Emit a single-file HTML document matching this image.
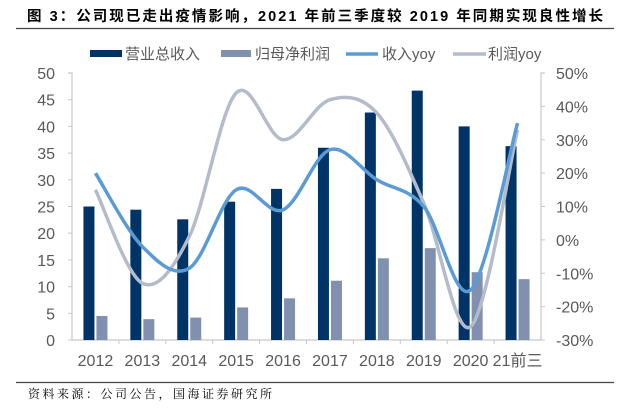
<!DOCTYPE html>
<html><head><meta charset="utf-8"><style>
body{margin:0;background:#fff;width:623px;height:409px;overflow:hidden}
text{font-family:"Liberation Sans","Noto Sans CJK SC",sans-serif}
</style></head><body>
<svg id="c" width="623" height="409" xmlns="http://www.w3.org/2000/svg">
<text x="27" y="21" font-size="14.5" font-weight="bold" fill="#000" textLength="576" lengthAdjust="spacing">图 3：公司现已走出疫情影响，2021 年前三季度较 2019 年同期实现良性增长</text>
<line x1="16" y1="28.5" x2="614" y2="28.5" stroke="#444" stroke-width="1.2"/>
<line x1="16" y1="382.5" x2="614" y2="382.5" stroke="#444" stroke-width="1.2"/>
<text x="28" y="398" font-size="12" fill="#000" textLength="244" lengthAdjust="spacing" style="font-family:'Liberation Serif','Noto Serif CJK SC',serif">资料来源：公司公告，国海证券研究所</text>
<g>
<rect x="90" y="50" width="32" height="7" fill="#003366"/>
<text x="125" y="59" font-size="15" fill="#595959">营业总收入</text>
<rect x="221" y="50" width="30" height="7" fill="#8090ae"/>
<text x="255" y="59" font-size="15" fill="#595959">归母净利润</text>
<line x1="346" y1="54" x2="378" y2="54" stroke="#5b9bd5" stroke-width="3.5"/>
<text x="382" y="59" font-size="15" fill="#595959">收入yoy</text>
<line x1="453" y1="54" x2="486" y2="54" stroke="#b4bccb" stroke-width="3.5"/>
<text x="488" y="59" font-size="15" fill="#595959">利润yoy</text>
</g>
<g id="plot"></g>
</svg>
<script>
const categories=["2012","2013","2014","2015","2016","2017","2018","2019","2020","21前三"];
const revenue=[25,24.4,22.6,25.9,28.3,36,42.6,46.7,40,36.3];
const profit=[4.5,3.9,4.2,6.1,7.8,11.1,15.3,17.2,12.7,11.4];
const revenueYoy=[20,-2,-8.5,15,9,27,18,10,-15,35];
const profitYoy=[15,-13,1,44,30,42,38,11,-26,33];
const leftTicks=[0,5,10,15,20,25,30,35,40,45,50];
const rightTicks=[-30,-20,-10,0,10,20,30,40,50];

const NS="http://www.w3.org/2000/svg";
const g=document.getElementById('plot');
const X0=72,X1=541,Y0=340,Y1=73;
const bw=(X1-X0)/categories.length;
const xc=i=>X0+bw*(i+0.5);
const yL=v=>Y0-(v/50)*(Y0-Y1);
const yR=v=>Y0-((v+30)/80)*(Y0-Y1);
function mk(t,a){const e=document.createElementNS(NS,t);for(const k in a)e.setAttribute(k,a[k]);g.appendChild(e);return e;}

let e;
e=mk('path',{d:`M${X0-4},${Y1}H${X0}V${Y0}H${X1}V${Y1}H${X1+4}`,fill:'none',stroke:'#c8c8c8','stroke-width':1.2});


leftTicks.forEach(v=>{
 e=mk('line',{x1:X0-4,x2:X0,y1:yL(v),y2:yL(v),stroke:'#c8c8c8'});
 
 
 e=mk('text',{x:X0-17,y:yL(v)+6,'font-size':16,fill:'#595959','text-anchor':'end'});e.textContent=v;
 
 
});
rightTicks.forEach(v=>{
 e=mk('line',{x1:X1,x2:X1+4,y1:yR(v),y2:yR(v),stroke:'#c8c8c8'});
 
 
 e=mk('text',{x:556,y:yR(v)+6,'font-size':16,fill:'#595959'});e.textContent=v+'%';
 
 
});
for(let i=1;i<categories.length;i++){
 e=mk('line',{x1:X0+bw*i,x2:X0+bw*i,y1:Y0,y2:Y0+4,stroke:'#c8c8c8'});
 
 
}
categories.forEach((c,i)=>{
 e=mk('rect',{x:xc(i)-12,y:yL(revenue[i]),width:11,height:Y0-yL(revenue[i]),fill:'#003366'});
 
 
 e=mk('rect',{x:xc(i)+1,y:yL(profit[i]),width:11,height:Y0-yL(profit[i]),fill:'#8090ae'});
 
 
 e=mk('text',{x:xc(i),y:366,'font-size':16,fill:'#595959','text-anchor':'middle'});e.textContent=c;
 
 
});
function smooth(vals){
 const p=vals.map((v,i)=>[xc(i),yR(v)]);
 let d=`M${p[0][0]},${p[0][1]}`;
 for(let i=0;i<p.length-1;i++){
  const a=p[i-1]||p[i],b=p[i],c=p[i+1],n=p[i+2]||c;
  d+=`C${b[0]+(c[0]-a[0])/6},${b[1]+(c[1]-a[1])/6} ${c[0]-(n[0]-b[0])/6},${c[1]-(n[1]-b[1])/6} ${c[0]},${c[1]}`;
 }
 return d;
}
e=mk('path',{d:smooth(profitYoy),fill:'none',stroke:'#b4bccb','stroke-width':3.5});


e=mk('path',{d:smooth(revenueYoy),fill:'none',stroke:'#5b9bd5','stroke-width':3.5});


</script>
</body></html>
